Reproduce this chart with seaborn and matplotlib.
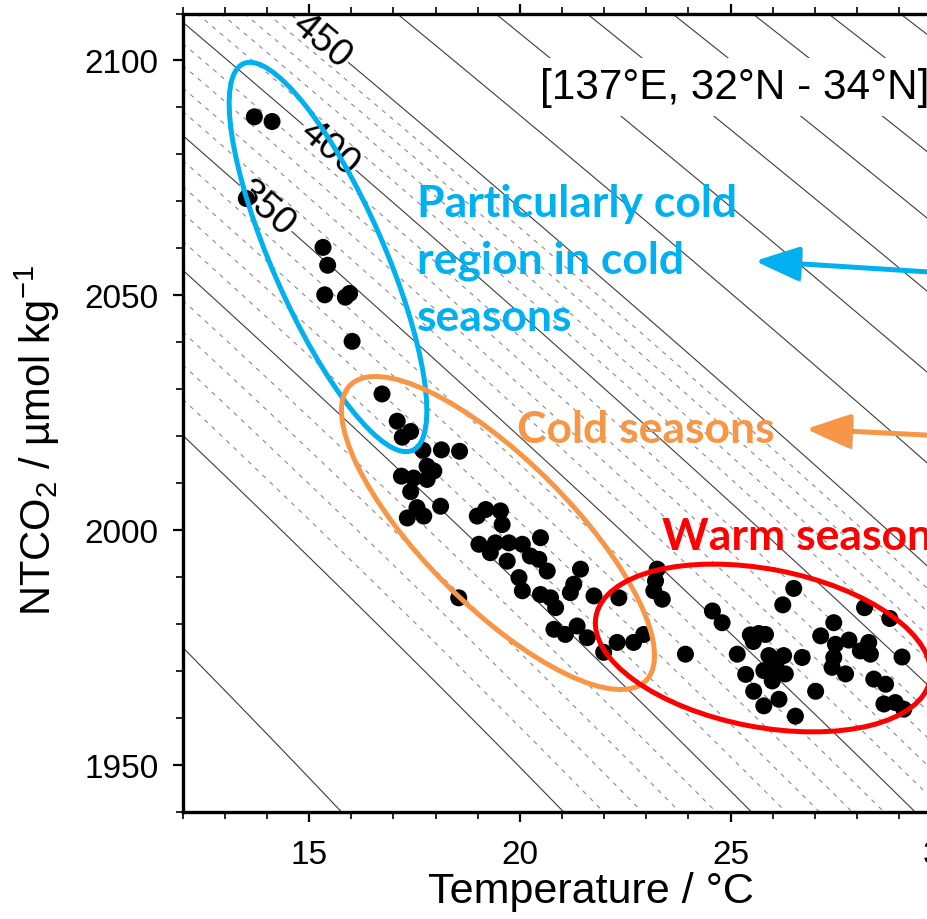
import numpy as np
import pandas as pd
import matplotlib
matplotlib.use("Agg")
import matplotlib.pyplot as plt
import seaborn as sns
from matplotlib.patches import Ellipse, FancyArrowPatch, ArrowStyle
from matplotlib.transforms import Affine2D
from matplotlib.ticker import MultipleLocator
import matplotlib.patheffects as pe

# ---- observations: surface temperature (°C) and salinity-normalised TCO2 (µmol/kg)
temperature = [
    13.70, 14.12, 13.51, 15.33, 15.44, 15.37, 15.86, 15.96, 16.02,
    16.73, 17.09, 17.41, 17.21, 17.70, 18.14, 18.57, 17.80, 17.96, 17.19,
    17.48, 17.80, 17.41, 17.56, 18.12, 17.33, 17.72, 18.99, 19.03, 18.55,
    19.54, 19.58, 19.19, 19.42, 19.30, 19.74, 20.06, 20.49, 19.70, 20.25,
    20.45, 20.65, 19.98, 20.06, 20.49, 20.73, 20.85, 21.44, 21.28, 21.20,
    21.76, 22.35, 20.81, 21.08, 21.36, 21.60, 21.99, 22.31, 22.70, 22.94,
    23.26, 23.22, 23.18, 23.38, 23.93, 24.57, 24.80, 25.16, 25.36, 25.47,
    25.67, 25.83, 25.91, 26.26, 25.79, 26.03, 26.30, 25.99, 25.55, 25.79,
    26.15, 26.54, 26.50, 26.24, 26.70, 27.02, 27.14, 27.45, 27.49, 27.81,
    27.45, 27.41, 27.73, 28.18, 28.78, 28.08, 28.28, 28.32, 28.40, 28.68,
    28.64, 28.91, 29.11, 29.07, 26.09, 25.54,
]
ntco2 = [
    2088.0, 2087.0, 2070.6, 2060.2, 2056.4, 2050.1, 2049.6, 2050.4, 2040.2,
    2029.0, 2023.2, 2021.0, 2019.8, 2017.0, 2017.1, 2016.8, 2013.6, 2012.6, 2011.5,
    2011.1, 2010.8, 2008.2, 2004.8, 2005.1, 2002.6, 2003.0, 2003.0, 1997.0, 1985.6,
    2004.1, 2001.2, 2004.4, 1997.3, 1995.2, 1997.3, 1997.0, 1998.4, 1993.4, 1994.5,
    1993.8, 1991.3, 1989.9, 1987.1, 1986.3, 1985.6, 1983.5, 1991.7, 1988.5, 1986.7,
    1986.0, 1985.6, 1978.9, 1977.8, 1979.6, 1977.1, 1974.0, 1976.1, 1976.1, 1977.8,
    1991.7, 1989.2, 1987.1, 1985.3, 1973.6, 1982.8, 1980.3, 1973.6, 1969.3, 1977.7,
    1978.0, 1977.8, 1973.3, 1973.3, 1970.1, 1970.8, 1969.4, 1967.9, 1965.7, 1962.6,
    1964.0, 1960.4, 1987.6, 1984.1, 1972.9, 1965.7, 1977.5, 1980.3, 1975.7, 1976.6,
    1972.9, 1970.8, 1969.4, 1983.5, 1981.2, 1974.3, 1976.1, 1973.6, 1968.3, 1967.2,
    1963.0, 1963.3, 1961.9, 1973.0, 1972.0, 1976.3,
]
obs = pd.DataFrame({"temperature": temperature, "ntco2": ntco2})

# ---- pCO2 isoline field: ln pCO2 expanded about a reference state
P_REF, T_REF, C_REF = 200.0, 15.77, 1940.0
B1, B2 = 0.04311, -1.47e-4          # temperature terms
K1, K2 = 0.004556, 3.03e-6          # NTCO2 terms (Revelle-type sensitivity)
K3 = -9.4e-6                        # cross term
solid_levels = list(range(200, 951, 50))
dashed_levels = [v for v in range(260, 450, 10) if v % 50]
labelled_levels = [350, 400, 450]
label_spots = [(13.97, 2068.5), (15.51, 2081.7), (15.23, 2103.6)]

x_ticks = [15, 20, 25, 30]
y_ticks = [1950, 2000, 2050, 2100]
region_title = "[137°E, 32°N - 34°N]"

W, H = 928, 920
sns.set_theme(style="ticks")
plt.rcParams["font.family"] = ["Liberation Sans", "DejaVu Sans"]
plt.rcParams["mathtext.fontset"] = "custom"
plt.rcParams["mathtext.rm"] = "Liberation Sans"
plt.rcParams["mathtext.it"] = "Liberation Sans:italic"
for key in ["text.color", "axes.labelcolor", "xtick.color", "ytick.color",
            "xtick.labelcolor", "ytick.labelcolor", "axes.edgecolor"]:
    plt.rcParams[key] = "black"

fig = plt.figure(figsize=(W / 100, H / 100), dpi=100)
fig.patch.set_facecolor("white")
# pixel helper (origin top-left of the canvas)
px = Affine2D().scale(1.0 / W, -1.0 / H).translate(0, 1) + fig.transFigure

x_min, x_max, y_min, y_max = 12, 32, 1940, 2110
ax_left, ax_top, ax_bottom, px_per_deg = 182.7, 14.5, 813.0, 42.14
ax = fig.add_axes([ax_left / W, 1 - ax_bottom / H,
                   (x_max - x_min) * px_per_deg / W, (ax_bottom - ax_top) / H])
ax.set_facecolor("white")

# background isolines
tg = np.linspace(x_min, x_max, 500)
cg = np.linspace(y_min, y_max, 500)
TT, CC = np.meshgrid(tg, cg)
dT, dC = TT - T_REF, CC - C_REF
pco2 = P_REF * np.exp(B1 * dT + B2 * dT ** 2 + K1 * dC + K2 * dC ** 2 + K3 * dT * dC)

plain_levels = [v for v in solid_levels if v not in labelled_levels]
ax.contour(TT, CC, pco2, levels=plain_levels, colors="#3c3c3c",
           linewidths=0.8, zorder=1)
cs_lab = ax.contour(TT, CC, pco2, levels=labelled_levels, colors="#3c3c3c",
                    linewidths=0.8, zorder=1)
ax.contour(TT, CC, pco2, levels=dashed_levels, colors="#8a8a8a",
           linewidths=0.8, linestyles=[(0, (4, 5))], zorder=1)
ax.clabel(cs_lab, manual=label_spots, fmt="%d", fontsize=28, inline=True,
          inline_spacing=2, colors="black")

# observations
sns.scatterplot(data=obs, x="temperature", y="ntco2", ax=ax, color="black",
                s=150, edgecolor="none", linewidth=0, zorder=3, legend=False)

ax.set_xlim(x_min, x_max)
ax.set_ylim(y_min, y_max)
ax.set_xticks(x_ticks)
ax.set_yticks(y_ticks)
ax.xaxis.set_minor_locator(MultipleLocator(1))
ax.yaxis.set_minor_locator(MultipleLocator(10))
ax.tick_params(which="both", direction="out", top=True, right=True,
               colors="black", labelsize=24)
ax.tick_params(which="major", length=7.2, width=1.6)
ax.tick_params(which="minor", length=5, width=1.2)
ax.tick_params(axis="x", pad=12.5)
ax.tick_params(axis="y", pad=10)
for s in ax.spines.values():
    s.set_linewidth(2.4)
    s.set_color("black")

ax.set_xlabel("Temperature / °C", fontsize=31)
ax.set_ylabel("NTCO$_2$ / µmol kg$^{-1}$", fontsize=30)
ax_w = (x_max - x_min) * px_per_deg
ax_h = ax_bottom - ax_top
ax.xaxis.set_label_coords((591 - ax_left) / ax_w, (ax_bottom - 872) / ax_h)
ax.yaxis.set_label_coords((62 - ax_left) / ax_w, (ax_bottom - 440) / ax_h)

# region header with a white backing box
fig.text(540, 88, region_title, transform=px, fontsize=30.5, ha="left",
         va="center", zorder=5,
         bbox=dict(boxstyle="square,pad=0.22", facecolor="white", edgecolor="none"))

# season groupings
blue, orange, red = "#00B0F0", "#F79646", "#FF0000"
for (cx, cy, w, h, ang, col) in [
    (328, 258, 422, 112, 66.4, blue),
    (498, 534, 418, 146, 45.0, orange),
    (763, 649, 340, 158, 10.8, red),
]:
    fig.patches.append(Ellipse((cx, cy), w, h, angle=ang, transform=px,
                               fill=False, edgecolor=col, linewidth=3.6, zorder=6))

note_font = dict(family=["Lato", "DejaVu Sans"], weight="bold", fontsize=32)
for line, yb in [("Particularly cold", 217), ("region in cold", 274), ("seasons", 331)]:
    fig.text(417, yb, line, transform=px, color=blue, ha="left", va="baseline",
             zorder=7, **note_font)
fig.text(517, 443, "Cold seasons", transform=px, color=orange, ha="left",
         va="baseline", zorder=7, **note_font)
fig.text(662, 550, "Warm seasons", transform=px, color=red, ha="left",
         va="baseline", zorder=7, **note_font)

shadow = [pe.SimplePatchShadow(offset=(2, -3), shadow_rgbFace="#777777", alpha=0.45),
          pe.Normal()]
for (x0, y0, x1, y1, col) in [(945, 274, 755, 262, blue), (945, 437, 806, 430, orange)]:
    arr = FancyArrowPatch((x0, y0), (x1, y1), transform=px,
                          arrowstyle=ArrowStyle("-|>", head_length=1.8, head_width=0.7),
                          mutation_scale=15, color=col, linewidth=3.6,
                          shrinkA=0, shrinkB=0, zorder=7)
    arr.set_path_effects(shadow)
    fig.patches.append(arr)

fig.savefig("out.png", dpi=100, facecolor="white")
